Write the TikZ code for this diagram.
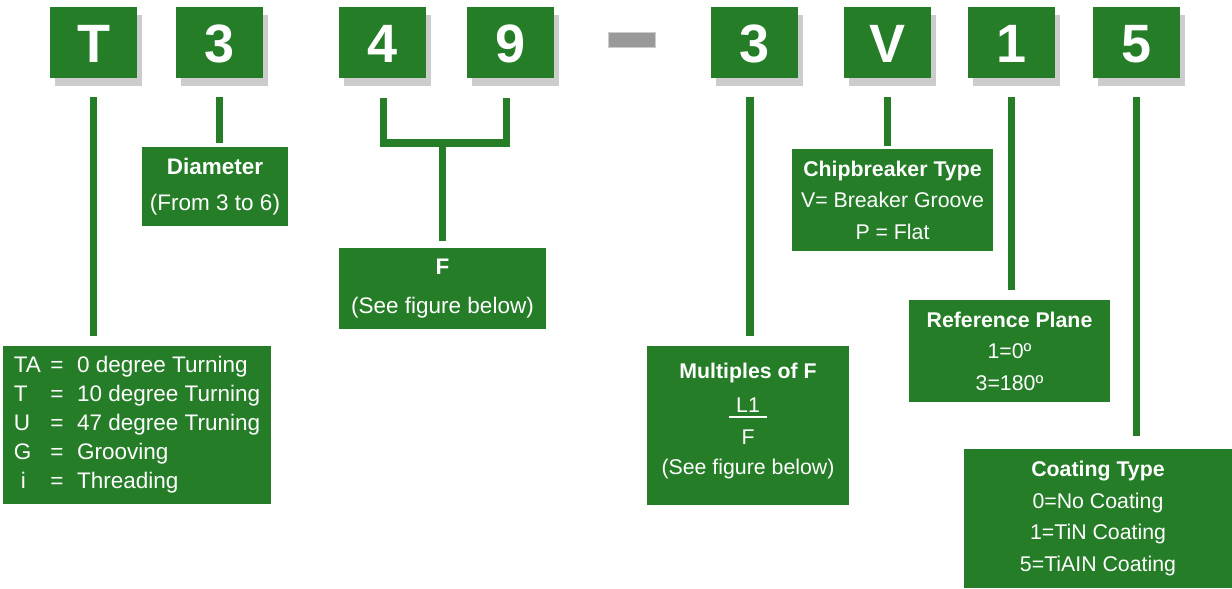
\documentclass[tikz,border=0pt]{standalone}
\usepackage{fontspec}
\setmainfont{Liberation Sans}
\usetikzlibrary{shadows}

\definecolor{codegreen}{RGB}{37,125,40}
\definecolor{shadowgray}{RGB}{204,204,204}
\definecolor{dashgray}{RGB}{153,153,153}

\tikzset{
  digitbox/.style={fill=codegreen, text=white, inner sep=0pt,
    minimum width=87pt, minimum height=71pt, text height=39pt, text depth=0pt,
    font=\fontsize{54}{54}\selectfont\bfseries,
    drop shadow={shadow xshift=5pt, shadow yshift=-8pt, fill=shadowgray, opacity=1}},
  infobox/.style={fill=codegreen, text=white, inner sep=0pt, align=center,
    font=\fontsize{22.5}{31.5}\selectfont},
  smallbox/.style={infobox, font=\fontsize{21.3}{31.5}\selectfont},
  stem/.style={draw=codegreen, line width=7.5pt},
}

\begin{document}
\begin{tikzpicture}[x=1pt, y=-1pt]
  \useasboundingbox (0,0) rectangle (1232,589);

  % Codigo
  \node[digitbox] (cT) at (93.5,42.5) {T};
  \node[digitbox] (cD) at (219.5,42.5) {3};
  \node[digitbox] (cF1) at (382.5,42.5) {4};
  \node[digitbox] (cF2) at (510.5,42.5) {9};
  \node[fill=dashgray, draw=shadowgray, line width=1pt, inner sep=0pt,
    minimum width=47pt, minimum height=15pt] (dash) at (632,40) {};
  \node[digitbox] (cM) at (754.5,42.5) {3};
  \node[digitbox] (cV) at (887.5,42.5) {V};
  \node[digitbox] (cR) at (1011.5,42.5) {1};
  \node[digitbox] (cC) at (1136.5,42.5) {5};

  % Cajas
  \node[infobox, minimum width=268pt, minimum height=158pt] (type) at (137,425)
    {\fontsize{22.5}{29}\selectfont
     \begin{tabular}{@{}p{36.5pt}@{}c@{\hspace{13.5pt}}l@{}}
       TA & = & 0 degree Turning\\
       T & = & 10 degree Turning\\
       U & = & 47 degree Truning\\
       G & = & Grooving\\
       \hspace{7pt}i & = & Threading
     \end{tabular}};
  \node[infobox, minimum width=146pt, minimum height=79pt] (diam) at (215,186.5)
    {\textbf{Diameter}\\[4.5pt](From 3 to 6)};
  \node[infobox, minimum width=207pt, minimum height=81pt] (fbox) at (442.5,288.5)
    {\textbf{F}\\[7.5pt](See figure below)};
  \node[smallbox, minimum width=202pt, minimum height=159pt] (mult) at (748,425.5)
    {\textbf{Multiples of F}\\[2.5pt]L1\\[-25.5pt]\rule{38pt}{2pt}\\[-5.5pt]F\\[-1.5pt](See figure below)\\[-18pt]\mbox{}};
  \node[smallbox, minimum width=201pt, minimum height=102pt] (chip) at (892.5,200)
    {\textbf{Chipbreaker Type}\\V= Breaker Groove\\P = Flat};
  \node[smallbox, minimum width=201pt, minimum height=102pt] (refp) at (1009.5,351)
    {\textbf{Reference Plane}\\1=0º\\3=180º};
  \node[smallbox, minimum width=268pt, minimum height=139pt] (coat) at (1098,518.5)
    {\textbf{Coating Type}\\0=No Coating\\1=TiN Coating\\5=TiAIN Coating};

  % Lineas
  \draw[stem, shorten <=19pt, shorten >=10pt] (cT.south) -- (cT.south |- type.north);
  \draw[stem, shorten <=19pt, shorten >=4pt] (cD.south) -- (cD.south |- diam.north);
  \draw[stem, shorten <=19pt, shorten >=10pt] ([xshift=-4.5pt]cM.south) -- ([xshift=-4.5pt]cM.south |- mult.north);
  \draw[stem, shorten <=19pt, shorten >=3pt] (cV.south) -- (cV.south |- chip.north);
  \draw[stem, shorten <=19pt, shorten >=10pt] (cR.south) -- (cR.south |- refp.north);
  \draw[stem, shorten <=19pt, shorten >=13pt] (cC.south) -- (cC.south |- coat.north);

  % Llave de 4 y 9
  \coordinate (brL) at (383.5,143);
  \coordinate (brR) at (506.5,143);
  \draw[stem, shorten <=20pt, shorten >=20pt] (cF1.south -| brL) -- (brL) -- (brR) -- (cF2.south -| brR);
  \draw[stem, shorten >=7pt] (fbox.north |- brL) -- (fbox.north);
\end{tikzpicture}
\end{document}
